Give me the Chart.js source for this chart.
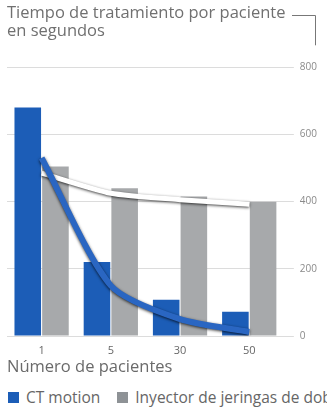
<!DOCTYPE html>
<html><head><meta charset="utf-8">
<script src="https://cdn.jsdelivr.net/npm/chart.js@4/dist/chart.umd.min.js"></script>
<style>
html,body{margin:0;padding:0;background:#fff;width:327px;height:409px;overflow:hidden;font-family:"Open Sans",sans-serif;}
#wrap{position:relative;width:327px;height:377px;}
#legend{position:absolute;left:8px;top:386px;white-space:nowrap;font-size:15.5px;color:#666;width:319px;overflow:hidden;}
#legend span.sw{display:inline-block;width:11px;height:11px;margin-right:7px;vertical-align:0px;}
#legend span.it{margin-right:17px;}
</style></head><body>
<div id="wrap"><canvas id="c"></canvas></div>
<div id="legend"></div>
<script>
const categories = ["1", "5", "30", "50"];
const ctMotion = [680, 220, 108, 72];
const syringe = [505, 440, 415, 400];
const ctMotionLine = [530, 150, 50, 12];
const syringeLine = [485, 425, 406, 392];
const yTicks = [0, 200, 400, 600, 800];
const seriesNames = ["CT motion", "Inyector de jeringas de doble cabezal"];
const blue = '#1c5db7', gray = '#a7a9ab';

const shadowPlugin = {
  id:'shadow',
  beforeDatasetDraw(chart, args){
    const ds = chart.data.datasets[args.index];
    if (ds.type === 'line') { chart.ctx.save(); chart.ctx.shadowColor='rgba(0,0,0,0.75)'; chart.ctx.shadowBlur=3; chart.ctx.shadowOffsetY=1; }
  },
  afterDatasetDraw(chart, args){
    const ds = chart.data.datasets[args.index];
    if (ds.type === 'line') chart.ctx.restore();
  }
};
const bracketPlugin = {
  id:'bracket',
  afterDraw(chart){
    const ctx = chart.ctx, y = chart.scales.y;
    const top = y.getPixelForValue(800);
    ctx.save(); ctx.strokeStyle='#777'; ctx.lineWidth=1;
    ctx.beginPath(); ctx.moveTo(292,15.5); ctx.lineTo(315.5,15.5); ctx.lineTo(315.5, top-22); ctx.stroke(); ctx.restore();
  }
};

new Chart(document.getElementById('c'), {
  data: {
    labels: categories,
    datasets: [
      {type:'line', label:seriesNames[1]+' line', data:syringeLine, borderColor:'#ffffff', borderWidth:5, pointRadius:0, tension:0.2, order:0},
      {type:'line', label:seriesNames[0]+' line', data:ctMotionLine, borderColor:'#2a66c2', borderWidth:6, pointRadius:0, tension:0.25, order:-1},
      {type:'bar', label:seriesNames[0], data:ctMotion, backgroundColor:blue, order:2, categoryPercentage:0.8, barPercentage:0.96},
      {type:'bar', label:seriesNames[1], data:syringe, backgroundColor:gray, order:2, categoryPercentage:0.8, barPercentage:0.96}
    ]
  },
  options: {
    responsive:true, maintainAspectRatio:false, animation:false,
    layout:{padding:{left:7,right:4,top:4,bottom:0}},
    plugins:{
      legend:{display:false}, tooltip:{enabled:false},
      title:{display:true, text:['Tiempo de tratamiento por paciente','en segundos'], align:'start', color:'#707070',
        font:{family:'"Open Sans"', size:16.5, weight:'normal', lineHeight:1.1}, padding:{top:0,bottom:27}}
    },
    scales:{
      x:{grid:{display:false}, border:{display:false},
        ticks:{color:'#666', font:{family:'"Open Sans"', size:11}, padding:0},
        title:{display:true, text:'Número de pacientes', align:'start', color:'#6a6a6a', font:{family:'"Open Sans"', size:16.5}, padding:{top:0,bottom:0}}},
      y:{position:'right', min:0, max:800, border:{display:false},
        afterBuildTicks(s){ s.ticks = yTicks.map(v=>({value:v})); },
        grid:{color:'#dcdcdc', tickLength:10, drawTicks:true},
        ticks:{color:'#8a8a8a', font:{family:'"Open Sans"', size:10}, padding:6}}
    }
  },
  plugins:[shadowPlugin, bracketPlugin]
});
document.getElementById('legend').innerHTML =
  '<span class="it"><span class="sw" style="background:'+blue+'"></span>'+seriesNames[0]+'</span>'+
  '<span class="it"><span class="sw" style="background:#8e9296"></span>'+seriesNames[1]+'</span>';
</script>
</body></html>
